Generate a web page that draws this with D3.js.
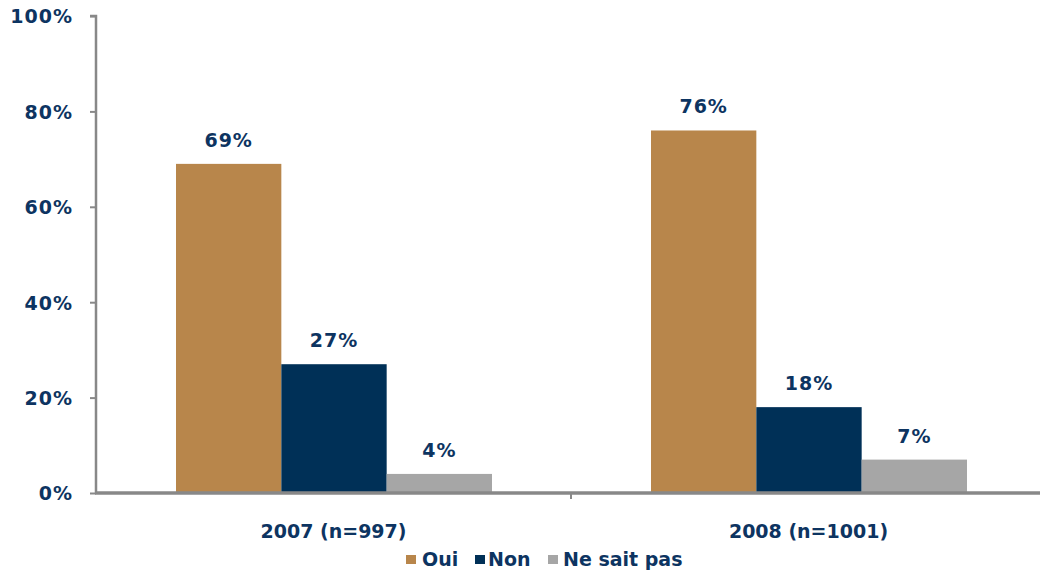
<!DOCTYPE html>
<html>
<head>
<meta charset="utf-8">
<script src="https://cdn.jsdelivr.net/npm/d3@7"></script>
<style>
  body { margin: 0; background: #fff; }
  svg text { font-family: "DejaVu Sans", Verdana, sans-serif; font-weight: bold; fill: #0d3461; }
</style>
</head>
<body>
<div class="chart"></div>
<script>
// chart data
var categories = ["2007 (n=997)", "2008 (n=1001)"];
var seriesNames = ["Oui", "Non", "Ne sait pas"];
var oui = [69, 76];
var non = [27, 18];
var nsp = [4, 7];
var yTicks = [0, 20, 40, 60, 80, 100];

var colors = ["#b8864b", "#003057", "#a6a6a6"];

var svgWidth = 1040, svgHeight = 571;
var margin = { top: 16, bottom: 78, left: 96, right: -6 };
var width = svgWidth - margin.left - margin.right;
var height = svgHeight - margin.top - margin.bottom;

var svg = d3.select(".chart")
  .append("svg")
  .attr("width", svgWidth)
  .attr("height", svgHeight);

var chartGroup = svg.append("g")
  .attr("transform", `translate(${margin.left}, ${margin.top})`);

// build rows from the arrays
var rows = categories.map((c, i) => ({
  cat: c,
  values: [oui[i], non[i], nsp[i]].map((v, j) => ({ name: seriesNames[j], value: v }))
}));

// scales
var x0 = d3.scaleBand().domain(categories).range([0, width]);
var x1 = d3.scaleBand().domain(seriesNames).range([80, 396]);
var yScale = d3.scaleLinear().domain([0, 100]).range([height, 0]);
var color = d3.scaleOrdinal().domain(seriesNames).range(colors);

// bars
var groups = chartGroup.selectAll(".cat")
  .data(rows)
  .enter()
  .append("g")
  .attr("transform", d => `translate(${x0(d.cat)}, 0)`);

groups.selectAll("rect")
  .data(d => d.values)
  .enter()
  .append("rect")
  .attr("x", d => x1(d.name))
  .attr("y", d => yScale(d.value))
  .attr("width", x1.bandwidth())
  .attr("height", d => height - yScale(d.value))
  .attr("fill", d => color(d.name));

// value labels
groups.selectAll("text.val")
  .data(d => d.values)
  .enter()
  .append("text")
  .attr("class", "val")
  .attr("x", d => x1(d.name) + x1.bandwidth() / 2)
  .attr("y", d => yScale(d.value) - 17)
  .attr("text-anchor", "middle")
  .style("font-size", "19px")
  .style("letter-spacing", "1px")
  .text(d => d.value + "%");

// y axis
var yAxis = d3.axisLeft(yScale).tickValues(yTicks).tickSize(6).tickPadding(17)
  .tickFormat(d => d + "%");
var yg = chartGroup.append("g").call(yAxis);
yg.select(".domain").attr("stroke", "#888").attr("stroke-width", 2.5)
  .attr("d", `M-6,0H0V${height + 1}`);
yg.selectAll(".tick line").attr("stroke", "#888").attr("stroke-width", 2);
yg.selectAll(".tick text").style("font-size", "19px").style("letter-spacing", "1px")
  .attr("dy", "0.36em");

// x axis
var xAxis = d3.axisBottom(x0).tickSize(0).tickPadding(32);
var xg = chartGroup.append("g")
  .attr("transform", `translate(0, ${height})`)
  .call(xAxis);
xg.select(".domain").attr("stroke", "#888").attr("stroke-width", 3.5)
  .attr("d", `M-1,0H${width}`);
xg.selectAll(".tick text").style("font-size", "19px");
// divider tick between the categories
xg.append("line")
  .attr("x1", x0(categories[1])).attr("x2", x0(categories[1]))
  .attr("y1", 0).attr("y2", 6)
  .attr("stroke", "#888").attr("stroke-width", 2);

// legend
var legendBox = [406, 475, 548];
var legendText = [422, 488, 563];
var legend = svg.append("g").attr("transform", "translate(0, 553)");
seriesNames.forEach((s, i) => {
  legend.append("rect")
    .attr("x", legendBox[i]).attr("y", 2)
    .attr("width", 10).attr("height", 9)
    .attr("fill", colors[i]);
  legend.append("text")
    .attr("x", legendText[i]).attr("y", 13)
    .style("font-size", "19px")
    .text(s);
});
</script>
</body>
</html>
